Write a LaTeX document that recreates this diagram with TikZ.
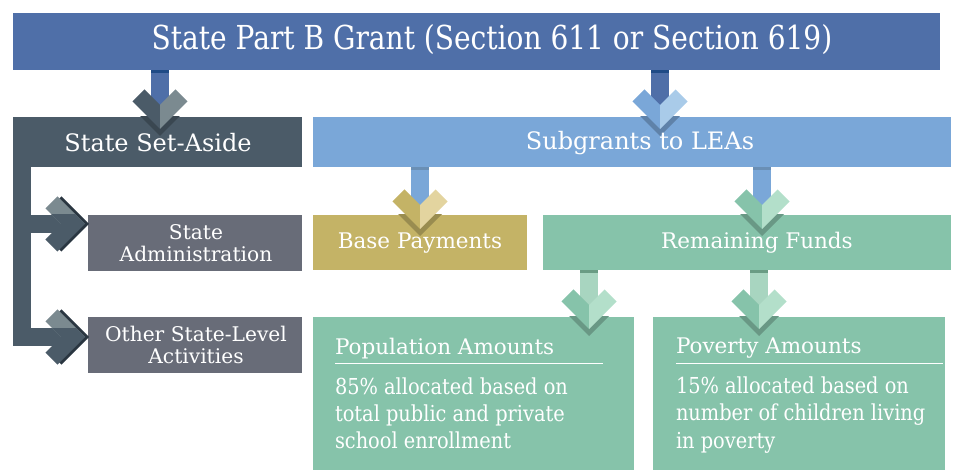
\documentclass[tikz,border=0pt]{standalone}
\usepackage{fontspec}
\setmainfont{DejaVu Serif}
\newfontfamily\narrowf{DejaVu Serif}[FakeStretch=0.85]
\newfontfamily\bodyf{DejaVu Serif}[FakeStretch=0.88]
\definecolor{titleblue}{HTML}{4F6FA8}
\definecolor{titledark}{HTML}{1F4B86}
\definecolor{setaside}{HTML}{4B5B68}
\definecolor{setlight}{HTML}{7B8A90}
\definecolor{setshadow}{HTML}{2A3641}
\definecolor{graybox}{HTML}{686C78}
\definecolor{subblue}{HTML}{7AA7D8}
\definecolor{sublight}{HTML}{A9CBE9}
\definecolor{subdark}{HTML}{6A8FB5}
\definecolor{gold}{HTML}{C4B366}
\definecolor{goldlight}{HTML}{E3D49F}
\definecolor{green}{HTML}{86C3AA}
\definecolor{greenlight}{HTML}{B3DFCA}
\definecolor{greenstem}{HTML}{A8D5C0}
\definecolor{greendark}{HTML}{6A9C84}
% down chevron: cx, notch y, left colour, right colour, stem top y, stem colour, stem dark, target node
\newcommand\dchev[8]{%
  \fill[#6] ({#1-9},#5) rectangle ({#1+9},#2);
  \fill[#7] ({#1-9},#5) rectangle ({#1+9},{#5+3});
  \begin{scope}
    \clip (#8.south west) rectangle (#8.north east);
    \fill[#3!78!black] ({#1-27.6},{#2+3.4}) -- ({#1},{#2+31}) -- ({#1+27.6},{#2+3.4})
      -- ({#1+15.6},{#2-8.6}) -- ({#1},{#2+7}) -- ({#1-15.6},{#2-8.6}) -- cycle;
  \end{scope}
  \fill[#3] (#1,#2) -- ({#1-15.6},{#2-15.6}) -- ({#1-27.6},{#2-3.6}) -- ({#1},{#2+24}) -- cycle;
  \fill[#4] (#1,#2) -- ({#1+15.6},{#2-15.6}) -- ({#1+27.6},{#2-3.6}) -- ({#1},{#2+24}) -- cycle;
}
% right chevron: notch x, centre y
\newcommand\rchev[2]{%
  \fill[setshadow] ({#1+4},#2) -- ({#1-11.6},{#2-15.6}) -- ({#1+0.4},{#2-27.6}) -- ({#1+28},#2)
    -- ({#1+0.4},{#2+27.6}) -- ({#1-11.6},{#2+15.6}) -- cycle;
  \fill[setlight] (#1,#2) -- ({#1-15.6},{#2-15.6}) -- ({#1-3.6},{#2-27.6}) -- ({#1+24},#2) -- cycle;
  \begin{scope}
    \clip ({#1-30},{#2-9}) rectangle ({#1+30},#2);
    \fill[setaside] (#1,#2) -- ({#1-15.6},{#2-15.6}) -- ({#1-3.6},{#2-27.6}) -- ({#1+24},#2) -- cycle;
  \end{scope}
  \fill[setaside] (#1,#2) -- ({#1-15.6},{#2+15.6}) -- ({#1-3.6},{#2+27.6}) -- ({#1+24},#2) -- cycle;
}
\begin{document}
\begin{tikzpicture}[x=1pt,y=-1pt,
  box/.style={rectangle, inner sep=0pt, outer sep=0pt},
  lbl/.style={text=white, inner sep=0pt, outer sep=0pt},
  big/.style={font=\narrowf\fontsize{33}{38}\selectfont},
  mid/.style={font=\fontsize{24}{28}\selectfont},
  sml/.style={font=\fontsize{20.2}{21.5}\selectfont, align=center},
  med/.style={font=\fontsize{21.5}{26}\selectfont},
  body/.style={font=\bodyf\fontsize{22}{26}\selectfont, anchor=base west}]
\useasboundingbox (0,0) rectangle (953,470);
% boxes
\node[box, fill=titleblue, minimum width=927pt, minimum height=57pt] (title) at (476.5,41.5) {};
\node[box, fill=setaside, minimum width=289pt, minimum height=50pt] (setb) at (157.5,142) {};
\node[box, fill=subblue, minimum width=638pt, minimum height=50pt] (subb) at (632,142) {};
\node[box, fill=graybox, minimum width=214pt, minimum height=56pt] (admb) at (195,243) {};
\node[box, fill=graybox, minimum width=214pt, minimum height=56pt] (othb) at (195,345) {};
\node[box, fill=gold, minimum width=214pt, minimum height=55pt] (baseb) at (420,242.5) {};
\node[box, fill=green, minimum width=408pt, minimum height=55pt] (remb) at (747,242.5) {};
\node[box, fill=green, minimum width=321pt, minimum height=153pt] (popb) at (473.5,393.5) {};
\node[box, fill=green, minimum width=292pt, minimum height=153pt] (povb) at (799,393.5) {};
% left bar
\fill[setaside] (setb.south west) rectangle (31,346);
\fill[setaside] (13,215) rectangle (61,233);
\fill[setaside] (13,328) rectangle (61,346);
\rchev{61}{224}
\rchev{61}{337}
% down chevrons
\dchev{160}{105}{setaside}{setlight}{70}{titleblue}{titledark}{setb}
\dchev{660}{105}{subblue}{sublight}{70}{titleblue}{titledark}{subb}
\dchev{420}{205}{gold}{goldlight}{167}{subblue}{subdark}{baseb}
\dchev{762}{205}{green}{greenlight}{167}{subblue}{subdark}{remb}
\dchev{589}{305}{green}{greenlight}{270}{greenstem}{greendark}{popb}
\dchev{759}{305}{green}{greenlight}{270}{greenstem}{greendark}{povb}
% labels
\node[lbl, big] (titlet) at (492,40) {State Part B Grant (Section 611 or Section 619)};
\node[lbl, mid] (sett) at (158,143) {State Set-Aside};
\node[lbl, mid] (subt) at (640,143) {Subgrants to LEAs};
\node[lbl, sml] (admt) at (196,243) {State\\Administration};
\node[lbl, sml] (otht) at (196,345) {Other State-Level\\Activities};
\node[lbl, med] (baset) at (420,243) {Base Payments};
\node[lbl, med] (remt) at (757,243) {Remaining Funds};
% population
\node[lbl, med, anchor=base west] (poph) at (335,354) {Population Amounts};
\draw[white, line width=1pt] (335,363) coordinate (popr1) -- (603,363) coordinate (popr2);
\node[lbl, body] (pop1) at (335,394) {85\% allocated based on};
\node[lbl, body] (pop2) at (335,421) {total public and private};
\node[lbl, body] (pop3) at (335,448) {school enrollment};
% poverty
\node[lbl, med, anchor=base west] (povh) at (676,353) {Poverty Amounts};
\draw[white, line width=1pt] (676,363) coordinate (povr1) -- (943,363) coordinate (povr2);
\node[lbl, body] (pov1) at (676,393) {15\% allocated based on};
\node[lbl, body] (pov2) at (676,420) {number of children living};
\node[lbl, body] (pov3) at (676,448) {in poverty};
\end{tikzpicture}
\end{document}
